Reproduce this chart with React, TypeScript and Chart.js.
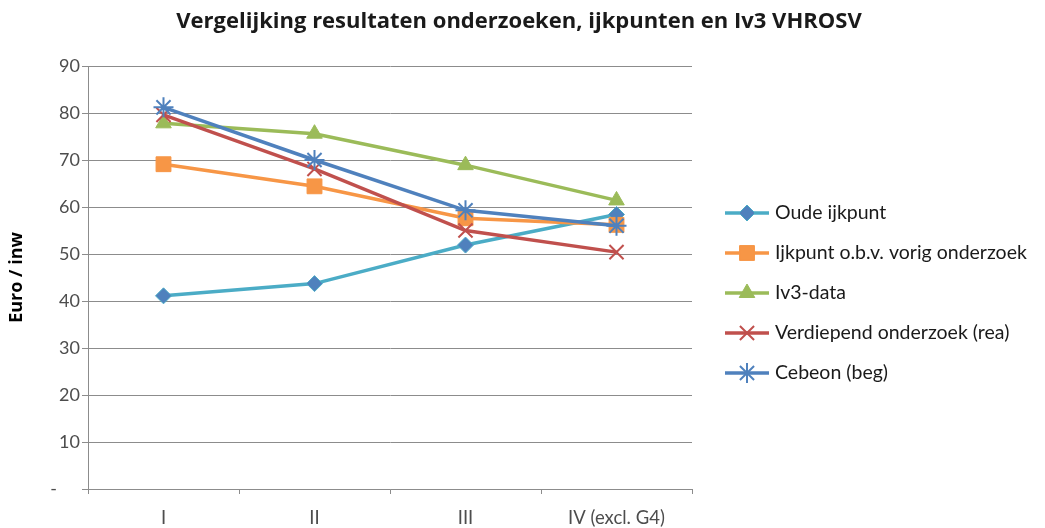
import React, { useEffect, useRef } from 'react';
import { Chart, registerables } from 'chart.js';
import { drawPoint } from 'chart.js/helpers';

Chart.register(...registerables);

const chartTitle = 'Vergelijking resultaten onderzoeken, ijkpunten en Iv3 VHROSV';
const yAxisTitle = 'Euro / inw';
const categories = ['I', 'II', 'III', 'IV (excl. G4)'];
const oudeIjkpunt = [41.1, 43.7, 51.9, 58.4];
const ijkpuntVorig = [69.1, 64.4, 57.6, 56.2];
const iv3Data = [77.8, 75.6, 68.9, 61.4];
const verdiepend = [79.6, 68.1, 55.0, 50.4];
const cebeon = [81.2, 70.0, 59.3, 56.0];
const seriesNames = [
  'Oude ijkpunt',
  'Ijkpunt o.b.v. vorig onderzoek',
  'Iv3-data',
  'Verdiepend onderzoek (rea)',
  'Cebeon (beg)',
];

const FONT = 'Lato, "Open Sans", sans-serif';

export default function App() {
  const ref = useRef<HTMLCanvasElement>(null);

  useEffect(() => {
    if (!ref.current) return;
    const styles = [
      { line: '#4BACC6', fill: '#4F81BD', border: '#4BACC6', style: 'rectRot', radius: 8, bw: 1 },
      { line: '#F79646', fill: '#F79646', border: '#F79646', style: 'rect', radius: 10.5, bw: 1 },
      { line: '#9BBB59', fill: '#9BBB59', border: '#9BBB59', style: 'triangle', radius: 9, bw: 1 },
      { line: '#C0504D', fill: '#C0504D', border: '#C0504D', style: 'crossRot', radius: 10, bw: 2 },
      { line: '#4F81BD', fill: '#4F81BD', border: '#4F81BD', style: 'star', radius: 10, bw: 2 },
    ];
    const values = [oudeIjkpunt, ijkpuntVorig, iv3Data, verdiepend, cebeon];

    const customPlugin = {
      id: 'customDecor',
      afterDraw(chart: any) {
        const ctx = chart.ctx;
        ctx.save();
        ctx.font = `bold 22px "Open Sans", sans-serif`;
        ctx.fillStyle = '#1a1a1a';
        ctx.textAlign = 'center';
        ctx.textBaseline = 'middle';
        ctx.fillText(chartTitle, 519, 22, 702);

        ctx.font = `19.5px ${FONT}`;
        ctx.textAlign = 'left';
        seriesNames.forEach((name, i) => {
          const s = styles[i];
          const y = 213 + 40 * i;
          ctx.strokeStyle = s.line;
          ctx.lineWidth = 3.5;
          ctx.beginPath();
          ctx.moveTo(725, y);
          ctx.lineTo(769, y);
          ctx.stroke();
          ctx.fillStyle = s.fill;
          ctx.strokeStyle = s.border;
          ctx.lineWidth = s.bw;
          drawPoint(ctx, { pointStyle: s.style, radius: s.radius, rotation: 0, borderWidth: s.bw } as any, 747, y);
          ctx.fillStyle = '#1a1a1a';
          ctx.fillText(name, 775, y);
        });
        ctx.restore();
      },
    };

    const chart = new Chart(ref.current, {
      type: 'line',
      data: {
        labels: categories,
        datasets: seriesNames.map((name, i) => ({
          label: name,
          data: values[i],
          borderColor: styles[i].line,
          backgroundColor: styles[i].fill,
          borderWidth: 3.5,
          pointStyle: styles[i].style as any,
          pointRadius: styles[i].radius,
          pointBackgroundColor: styles[i].fill,
          pointBorderColor: styles[i].border,
          pointBorderWidth: styles[i].bw,
          tension: 0,
          order: 5 - i,
        })),
      },
      options: {
        responsive: false,
        animation: false,
        layout: { padding: { top: 66, right: 353, left: 0, bottom: 0 } },
        plugins: {
          legend: { display: false },
          title: { display: false },
          tooltip: { enabled: false },
        },
        scales: {
          x: {
            offset: true,
            grid: { offset: true, drawOnChartArea: false, tickLength: 5, color: '#8C8C8C' },
            border: { color: '#8C8C8C', width: 1 },
            ticks: { color: '#4D4D4D', font: { size: 18.5, family: FONT }, padding: 13 },
            afterFit(scale: any) {
              scale.height = 39;
            },
          },
          y: {
            min: 0,
            max: 90,
            grid: { color: '#8C8C8C', tickLength: 6 },
            border: { color: '#8C8C8C', width: 1 },
            ticks: {
              stepSize: 10,
              color: '#4D4D4D',
              font: { size: 18, family: FONT },
              padding: 2,
              callback: (v: any) => (v === 0 ? '-     ' : String(v)),
            },
            title: {
              display: true,
              text: yAxisTitle,
              color: '#000',
              font: { size: 18, weight: 'bold', family: '"Open Sans", sans-serif' },
              padding: { top: 6, bottom: 0 },
            },
            afterFit(scale: any) {
              scale.width = 88;
            },
          },
        },
      },
      plugins: [customPlugin],
    });
    return () => chart.destroy();
  }, []);

  return (
    <div style={{ position: 'fixed', left: 0, top: 0, width: 1045, height: 528, background: '#fff' }}>
      <canvas ref={ref} width={1045} height={528} style={{ width: 1045, height: 528 }} />
    </div>
  );
}
